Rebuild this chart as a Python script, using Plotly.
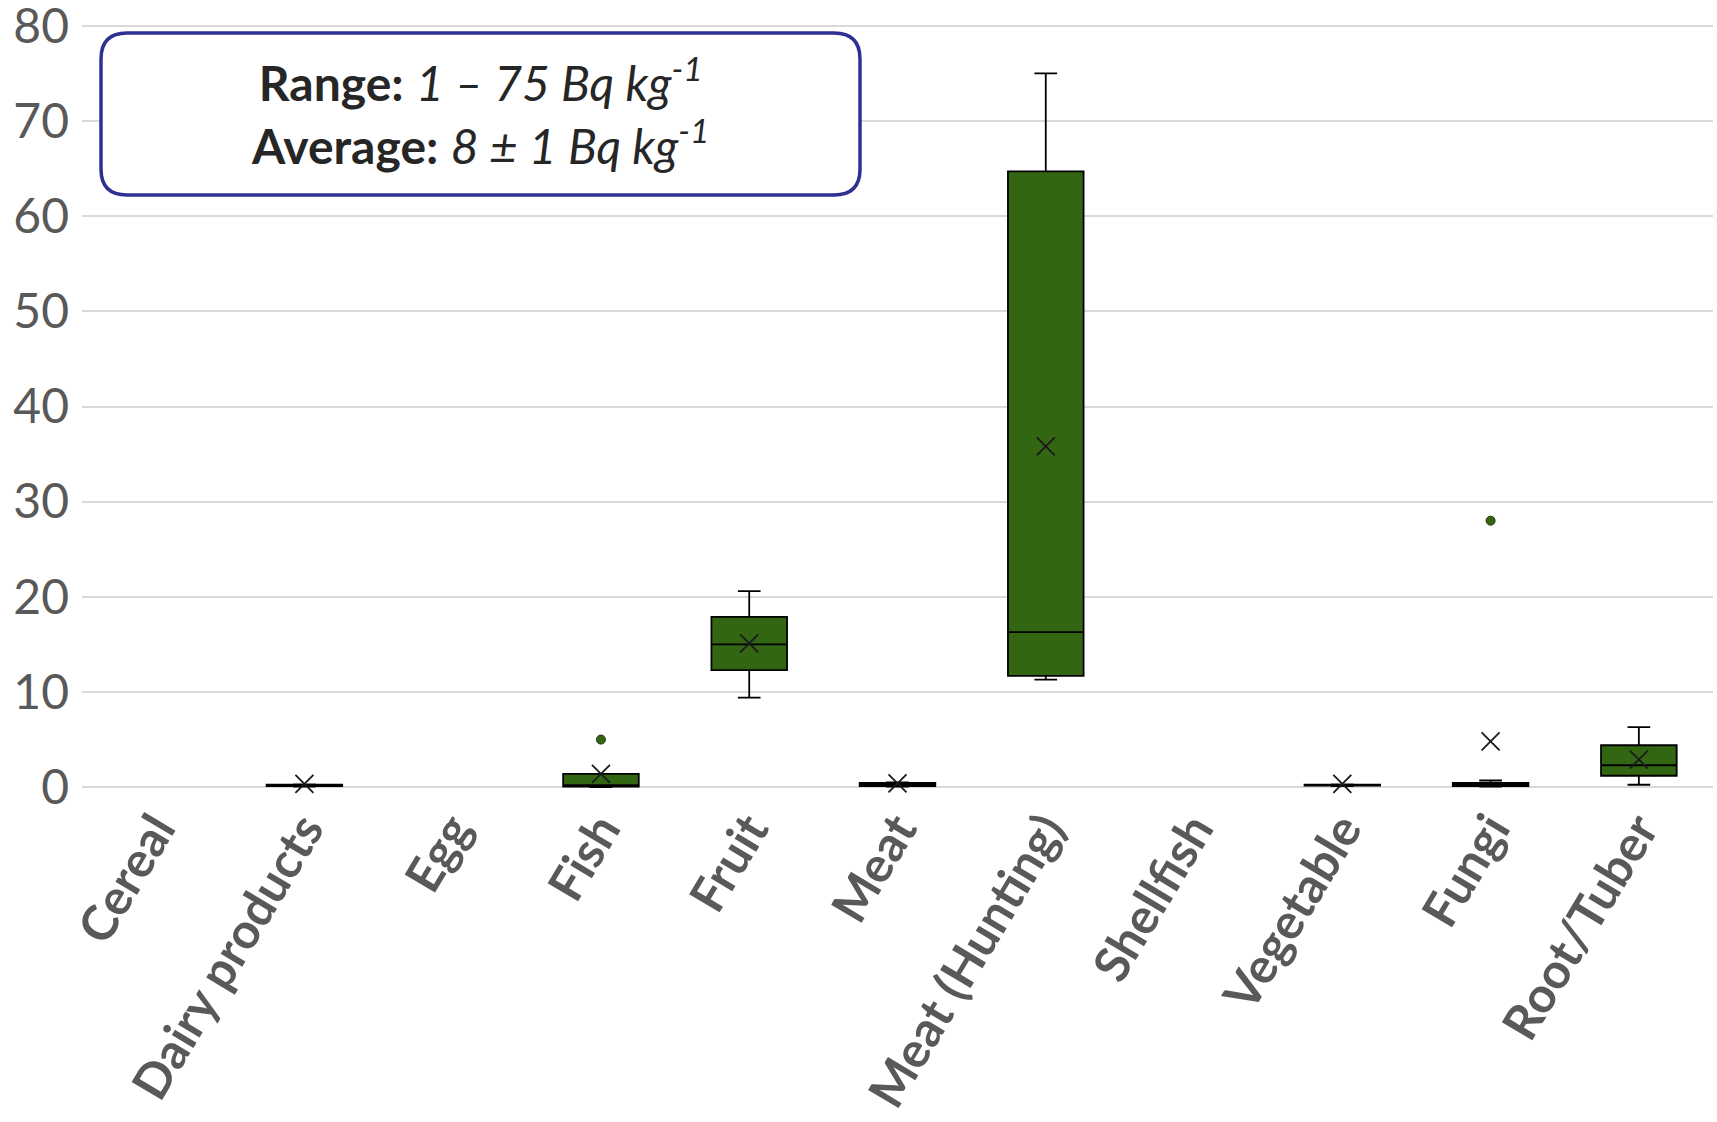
import plotly.graph_objects as go

categories = ["Cereal", "Dairy products", "Egg", "Fish", "Fruit", "Meat",
              "Meat (Hunting)", "Shellfish", "Vegetable", "Fungi", "Root/Tuber"]

box_cats = ["Dairy products", "Fish", "Fruit", "Meat", "Meat (Hunting)",
            "Vegetable", "Fungi", "Root/Tuber"]
q1 = [0.10, 0.05, 12.3, 0.10, 11.7, 0.15, 0.10, 1.2]
median = [0.20, 0.20, 15.0, 0.30, 16.3, 0.20, 0.30, 2.3]
q3 = [0.25, 1.40, 17.9, 0.45, 64.7, 0.25, 0.45, 4.4]
lowerfence = [0.05, 0.00, 9.4, 0.05, 11.3, 0.10, 0.05, 0.25]
upperfence = [0.30, 1.40, 20.6, 0.50, 75.0, 0.30, 0.70, 6.3]
means = [0.35, 1.4, 15.1, 0.40, 35.8, 0.35, 4.8, 2.9]

outlier_cats = ["Fish", "Fungi"]
outlier_vals = [5.0, 28.0]

y_ticks = [0, 10, 20, 30, 40, 50, 60, 70, 80]

GREEN = "rgb(50,102,18)"
W, H = 1717, 1122
PAD = 0.3           # small y padding so the 0 and 80 gridlines are not at the plot edge
PXU = 761 / 80      # pixels per unit in the reference
ML, MR = 82, 4
MT = round(26 - PAD * PXU)
MB = round(1122 - 787 - PAD * PXU)
PW, PH = W - ML - MR, H - MT - MB

fig = go.Figure()
fig.add_trace(go.Box(
    x=box_cats, q1=q1, median=median, q3=q3,
    lowerfence=lowerfence, upperfence=upperfence,
    boxpoints=False, boxmean=False, width=0.51, whiskerwidth=0.3,
    fillcolor=GREEN, line=dict(color="black", width=1.8),
    showlegend=False, hoverinfo="skip"))
fig.add_trace(go.Scatter(
    x=box_cats, y=means, mode="markers", cliponaxis=False,
    marker=dict(symbol="x-thin", size=18, line=dict(color="#1a1a1a", width=1.8)),
    showlegend=False, hoverinfo="skip"))
fig.add_trace(go.Scatter(
    x=outlier_cats, y=outlier_vals, mode="markers", cliponaxis=False,
    marker=dict(symbol="circle", size=9, color=GREEN, line=dict(color="#1a3308", width=1)),
    showlegend=False, hoverinfo="skip"))

# rounded annotation box (paper coordinates, from pixel positions)
def py(p):
    return (H - MB - p) / PH

def px(p):
    return (p - ML) / PW

bx0, bx1 = px(101), px(860)
by0, by1 = py(195), py(33)
rx, ry = 26 / PW, 26 / PH
path = (f"M {bx0+rx},{by0} L {bx1-rx},{by0} Q {bx1},{by0} {bx1},{by0+ry} "
        f"L {bx1},{by1-ry} Q {bx1},{by1} {bx1-rx},{by1} "
        f"L {bx0+rx},{by1} Q {bx0},{by1} {bx0},{by1-ry} "
        f"L {bx0},{by0+ry} Q {bx0},{by0} {bx0+rx},{by0} Z")
fig.add_shape(type="path", path=path, xref="paper", yref="paper",
              line=dict(color="rgb(46,49,146)", width=3.5), fillcolor="white", layer="above")
fig.add_annotation(
    xref="paper", yref="paper", x=(bx0 + bx1) / 2, y=py(111),
    xanchor="center", yanchor="middle", showarrow=False, align="center",
    text=("<b>Range:</b> <i>1 – 75 Bq kg<sup>-1</sup></i><br>"
          "<b>Average:</b> <i>8 ± 1 Bq kg<sup>-1</sup></i>"),
    font=dict(family="Lato", size=48, color="#262626"))

fig.update_layout(
    width=W, height=H, margin=dict(l=ML, r=MR, t=MT, b=MB),
    plot_bgcolor="white", paper_bgcolor="white",
    font=dict(family="Lato", color="#595959"),
    xaxis=dict(type="category", categoryorder="array", categoryarray=categories,
               range=[-0.5, len(categories) - 0.5], tickangle=-59, automargin=False,
               tickfont=dict(family="Lato", size=49, color="#595959", weight="bold"),
               showgrid=False, showline=False, ticks="", ticklabeloverflow="allow"),
    yaxis=dict(range=[-PAD, 80 + PAD], tickvals=y_ticks, showgrid=True, gridcolor="#D9D9D9",
               gridwidth=1.5, zeroline=False, ticklabeloverflow="allow",
               showline=False, ticks="", ticklabelstandoff=12, automargin=False,
               tickfont=dict(family="Lato", size=48, color="#595959")),
)

fig.write_html("out.html", config={"displayModeBar": False},
               post_script="document.body.style.margin='0';")
